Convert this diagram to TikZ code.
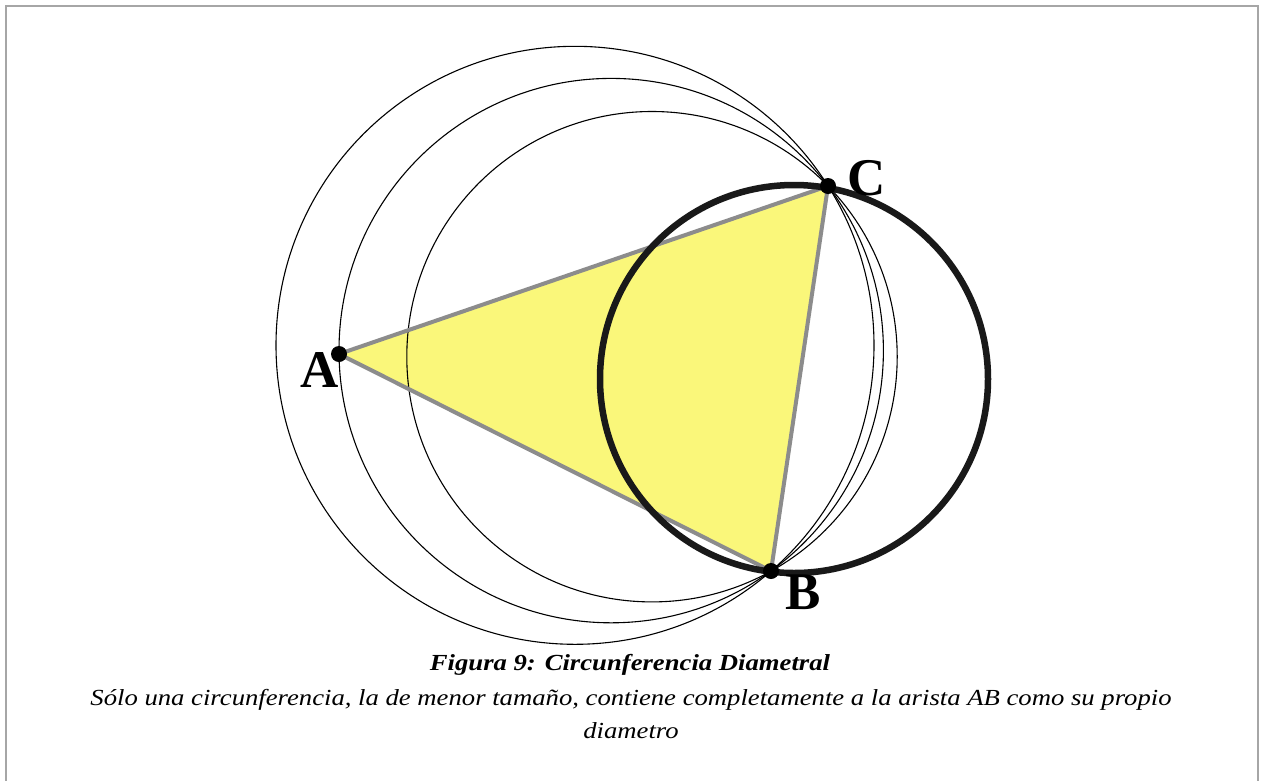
\documentclass[tikz,border=0pt]{standalone}
\usepackage{fontspec}
\setmainfont{Liberation Serif}
\newfontfamily\capfont[FakeStretch=1.16]{Liberation Serif}
\begin{document}
\begin{tikzpicture}[x=1pt,y=-1pt,
  thincirc/.style={draw=black,line width=1.1pt},
  thickcirc/.style={draw=black!90,line width=6.5pt},
  edge/.style={draw=black!45,line width=4pt,line join=round},
  ptdot/.style={circle,fill=black,inner sep=0pt,minimum size=16pt},
  ptlabel/.style={font=\fontsize{53}{60}\selectfont\bfseries,anchor=base,inner sep=0pt},
  captxt/.style={font=\capfont\fontsize{23}{28}\selectfont\itshape,anchor=base,inner sep=0pt},
  frame/.style={draw=black!35,line width=2pt}]
\useasboundingbox (0,0) rectangle (1261,780);
\fill[white] (0,0) rectangle (1261,780);
\draw[frame] (6,782) -- (6,6) -- (1258,6) -- (1258,782);
% points
\coordinate (A) at (339,354);
\coordinate (B) at (771,571);
\coordinate (C) at (828,186);
% triangle fill
\fill[fill={rgb,255:red,250;green,247;blue,122}] (A) -- (B) -- (C) -- cycle;
% thin circles through B and C
\draw[thincirc] (575,345.3) circle (299);
\draw[thincirc] (611.2,350.6) circle (272.2);
\draw[thincirc] (652,356.7) circle (245.2);
% triangle edges
\draw[edge] (A) -- (B) -- (C) -- cycle;
% thick circle
\draw[thickcirc] (794,379) circle (194);
% dots
\node[ptdot] (dA) at (A) {};
\node[ptdot] (dB) at (B) {};
\node[ptdot] (dC) at (C) {};
% labels
\node[ptlabel] (lA) at (320,387) {A};
\node[ptlabel] (lB) at (803.5,609) {B};
\node[ptlabel] (lC) at (867,195) {C};
% caption
\node[captxt,font=\capfont\fontsize{23}{28}\selectfont\bfseries\itshape] (cap1) at (630,670) {Figura 9: Circunferencia Diametral};
\node[captxt] (cap2) at (631,705) {Sólo una circunferencia, la de menor tamaño, contiene completamente a la arista AB como su propio};
\node[captxt] (cap3) at (631,738) {diametro};
\end{tikzpicture}
\end{document}
